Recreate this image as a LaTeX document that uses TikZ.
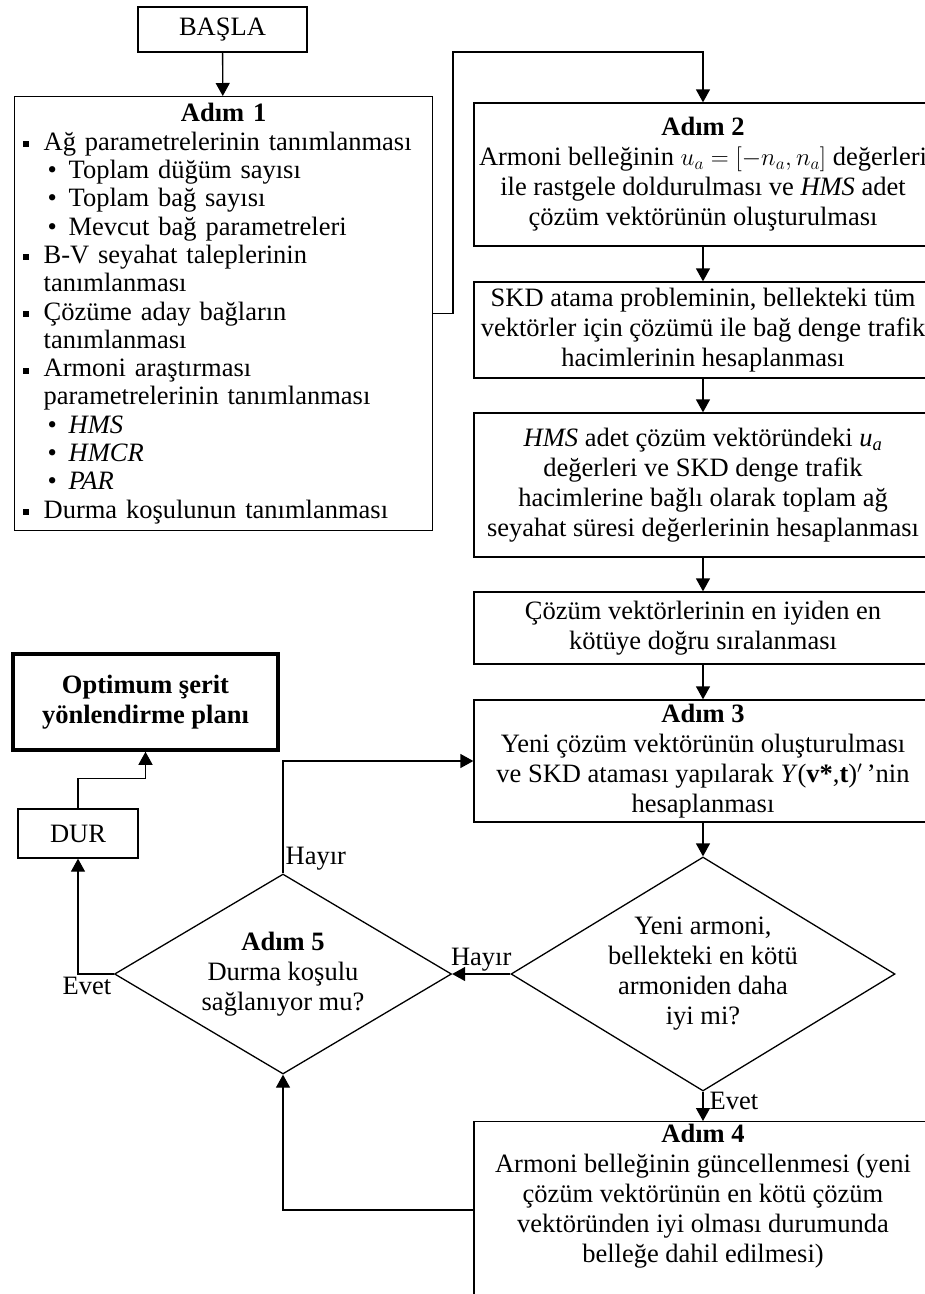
\documentclass[tikz,border=0pt]{standalone}
\usepackage{fontspec}
\setmainfont{Liberation Serif}
\usetikzlibrary{arrows.meta,shapes.geometric}
\tikzset{
    box/.style = {rectangle,fill=none,draw=black,text=black,line width=1.3pt,align=center,inner sep=2pt},
    karar/.style = {diamond,fill=none,draw=black,text=black,line width=1.3pt,align=center,inner sep=0pt},
    yol/.style = {line width=1.3pt,-{Triangle[length=13pt,width=14pt]}},
    etiket/.style = {inner sep=2pt},
    every node/.style = {font=\fontsize{26.5}{30}\selectfont}
}
\newcommand{\kare}{\makebox[21pt][l]{\raisebox{3pt}{\rule{6pt}{6pt}}}}
\newcommand{\nokta}{\hspace*{25pt}\makebox[21pt][l]{\textbullet}}
\newcommand{\girinti}{\hspace*{21pt}}

\begin{document}
\begin{tikzpicture}[x=1pt,y=-1pt]
        \useasboundingbox (0,0) rectangle (925,1294);

        %% Baslangic
        \node[box,minimum width=169pt,minimum height=45pt]  (basla) at (222.5,29.5)  {BAŞLA};
        \node[box,anchor=north west,align=left,text width=402pt,inner xsep=8pt,minimum height=434pt,
              font=\fontsize{26.5}{28.3}\selectfont]  (adim1) at (14,96) {%
            \makebox[402pt]{\textbf{Adım 1}}\\
            \kare Ağ parametrelerinin tanımlanması\\
            \nokta Toplam düğüm sayısı\\
            \nokta Toplam bağ sayısı\\
            \nokta Mevcut bağ parametreleri\\
            \kare B-V seyahat taleplerinin\\
            \girinti tanımlanması\\
            \kare Çözüme aday bağların\\
            \girinti tanımlanması\\
            \kare Armoni araştırması\\
            \girinti parametrelerinin tanımlanması\\
            \nokta \textit{HMS}\\
            \nokta \textit{HMCR}\\
            \nokta \textit{PAR}\\
            \kare Durma koşulunun tanımlanması};

        %% Sag sutun
        \node[box,minimum width=458pt,minimum height=143pt]  (adim2) at (703,174.5)
            {\textbf{Adım 2}\\ Armoni belleğinin $u_a=\left[-n_a,n_a\right]$ değerleri\\
             ile rastgele doldurulması ve \textit{HMS} adet\\ çözüm vektörünün oluşturulması};
        \node[box,minimum width=458pt,minimum height=96pt]  (skd) at (703,330)
            {SKD atama probleminin, bellekteki tüm\\ vektörler için çözümü ile bağ denge trafik\\
             hacimlerinin hesaplanması};
        \node[box,minimum width=458pt,minimum height=144pt]  (hms) at (703,485)
            {\textit{HMS} adet çözüm vektöründeki \textit{u}\textsubscript{\textit{a}}\\ değerleri ve SKD denge trafik\\
             hacimlerine bağlı olarak toplam ağ\\ seyahat süresi değerlerinin hesaplanması};
        \node[box,minimum width=458pt,minimum height=72pt]  (siral) at (703,628)
            {Çözüm vektörlerinin en iyiden en\\ kötüye doğru sıralanması};
        \node[box,minimum width=458pt,minimum height=122pt]  (adim3) at (703,761)
            {\textbf{Adım 3}\\ Yeni çözüm vektörünün oluşturulması\\
             ve SKD ataması yapılarak \textit{Y}(\textbf{v*},\textbf{t})$'$\,'nin\\ hesaplanması};
        \node[karar,minimum width=384pt,minimum height=234pt,aspect=1.64]  (karar1) at (703,974)
            {Yeni armoni,\\ bellekteki en kötü\\ armoniden daha\\ iyi mi?};
        \node[box,anchor=north,minimum width=458pt]  (adim4) at (703,1121)
            {\textbf{Adım 4}\\ Armoni belleğinin güncellenmesi (yeni\\ çözüm vektörünün en kötü çözüm\\
             vektöründen iyi olması durumunda\\ belleğe dahil edilmesi)\\[70pt]\mbox{}};

        %% Sol alt
        \node[karar,minimum width=337pt,minimum height=200pt,aspect=1.685]  (karar2) at (283,974)
            {\textbf{Adım 5}\\ Durma koşulu\\ sağlanıyor mu?};
        \node[box,minimum width=120pt,minimum height=49pt]  (dur) at (78,833.5)  {DUR};
        \node[box,line width=3.5pt,minimum width=265pt,minimum height=96pt]  (sonuc) at (145.5,702)
            {\textbf{Optimum şerit}\\ \textbf{yönlendirme planı}};

        \coordinate (donus) at (453,52);

        \path   [yol]
                (basla)  edge []  node {} (adim1)
                (adim2)  edge []  node {} (skd)
                (skd)    edge []  node {} (hms)
                (hms)    edge []  node {} (siral)
                (siral)  edge []  node {} (adim3)
                (adim3)  edge []  node {} (karar1)
                (karar1) edge []  node[pos=0.3,right,inner sep=6pt] {Evet} (adim4)
                (karar1) edge []  node[above,etiket] {Hayır} (karar2);

        \draw   [yol] (adim1.east) -| (donus) -| (adim2.north);
        \draw   [yol] (karar2.north) node[anchor=south west,etiket] {Hayır} |- (adim3.west);
        \draw   [yol] ([yshift=-89pt]adim4.north west) -| (karar2.south);
        \draw   [yol] (karar2.west) node[anchor=north east,etiket] {Evet} -| (dur.south);
        \draw   [yol] (dur.north) -- ++(0,-30) -| (sonuc.south);
\end{tikzpicture}
\end{document}
